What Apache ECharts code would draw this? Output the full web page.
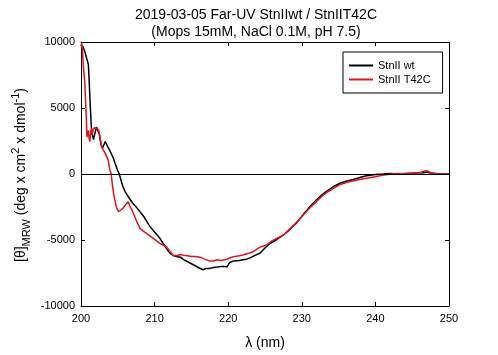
<!DOCTYPE html>
<html><head><meta charset="utf-8">
<script src="https://cdn.jsdelivr.net/npm/echarts@6/dist/echarts.min.js"></script>
<style>html,body{margin:0;padding:0;background:#fff}#c{width:498px;height:355px}</style>
</head><body><div id="c"></div>
<script>
var xTicks = [200, 210, 220, 230, 240, 250];
var yTicks = [-10000, -5000, 0, 5000, 10000];

var wtWl = [200.0,200.1,200.3,200.5,200.7,200.9,201.0,201.1,201.2,201.3,201.4,201.5,201.7,201.9,202.1,202.3,202.5,202.7,202.9,203.1,203.3,203.5,203.7,203.9,204.1,204.4,204.6,204.8,205.0,205.2,205.5,205.7,206.0,206.4,206.7,207.0,207.5,208.0,208.5,209.0,209.4,210.0,210.7,211.2,211.7,212.1,212.6,213.0,213.5,214.0,214.5,215.0,215.5,216.0,216.6,217.0,217.5,218.0,218.5,219.0,219.5,219.8,220.2,220.7,221.5,222.0,222.5,223.0,223.5,224.3,225.0,225.7,226.5,227.5,228.2,228.8,229.3,229.8,230.3,230.7,231.3,232.0,232.7,233.4,234.3,235.2,236.0,237.0,238.0,238.8,240.0,241.1,242.0,243.3,244.5,245.5,246.5,247.0,247.5,248.5,249.5,250.0];
var wtVal = [9800,9950,9600,9300,8900,8500,8300,7200,5900,4700,3600,3100,2600,3100,3550,3400,3000,2300,1950,2100,2450,2400,2000,1800,1550,1200,850,550,250,0,-600,-950,-1350,-1700,-1950,-2200,-2500,-2850,-3200,-3650,-4000,-4400,-4850,-5300,-5700,-6000,-6200,-6250,-6300,-6500,-6650,-6800,-6950,-7100,-7250,-7150,-7150,-7080,-7050,-7000,-7000,-7050,-6700,-6600,-6550,-6500,-6450,-6350,-6200,-6000,-5600,-5250,-5000,-4620,-4300,-3950,-3700,-3350,-3000,-2750,-2350,-1950,-1600,-1300,-950,-700,-550,-420,-250,-130,-30,0,30,0,50,80,100,150,80,20,0,0];

var mutWl = [200.0,200.1,200.2,200.3,200.4,200.5,200.6,200.7,200.8,200.9,201.0,201.1,201.2,201.3,201.4,201.5,201.6,201.7,201.8,201.9,202.1,202.4,202.6,202.8,203.0,203.3,203.5,203.7,203.9,204.1,204.3,204.5,204.8,205.1,205.4,205.7,206.1,206.4,206.7,207.0,207.5,208.0,208.5,208.9,209.5,210.0,210.7,211.2,211.6,212.0,212.5,213.0,213.5,213.9,214.5,215.0,215.5,216.2,216.8,217.5,218.0,218.5,219.0,219.8,220.3,220.7,221.5,222.0,222.8,223.4,224.0,224.5,225.2,226.0,227.5,228.2,228.8,229.8,230.7,231.3,232.0,232.7,233.4,234.3,235.2,236.5,237.5,238.8,240.0,241.1,242.0,243.0,244.0,245.0,246.0,246.5,247.0,247.5,248.5,249.5,250.0];
var mutVal = [9700,9900,9300,8400,7600,7100,5800,4600,2800,3100,3300,2700,2450,3100,3450,3000,3200,3050,3500,3580,3450,3330,2700,2070,1850,1560,1300,1060,350,0,-1000,-1700,-2500,-2850,-2750,-2600,-2300,-2100,-2500,-2800,-3500,-4100,-4350,-4500,-4750,-4950,-5250,-5400,-5500,-5800,-6150,-6200,-6100,-6150,-6200,-6250,-6250,-6300,-6450,-6600,-6590,-6500,-6550,-6460,-6350,-6260,-6200,-6140,-6000,-5890,-5650,-5500,-5380,-5050,-4620,-4250,-3950,-3350,-2800,-2450,-2090,-1700,-1400,-1080,-800,-580,-450,-330,-200,-80,-20,30,0,60,100,200,250,100,0,-20,0];

function pairs(xs, ys) { return xs.map(function (x, i) { return [x, ys[i]]; }); }

var FONT = 'Liberation Sans, Arial, sans-serif';
var chart = echarts.init(document.getElementById('c'));
var xBase = {
  type: 'value', min: xTicks[0], max: xTicks[xTicks.length - 1], interval: 10,
  axisLine: { show: true, onZero: false, lineStyle: { color: '#000', width: 1 } },
  axisTick: { show: true, inside: true, length: 4, lineStyle: { color: '#000' } },
  splitLine: { show: false }
};
var yBase = {
  type: 'value', min: yTicks[0], max: yTicks[yTicks.length - 1], interval: 5000,
  axisLine: { show: true, onZero: false, lineStyle: { color: '#000', width: 1 } },
  axisTick: { show: true, inside: true, length: 4, lineStyle: { color: '#000' } },
  splitLine: { show: false }
};
chart.setOption({
  animation: false,
  backgroundColor: '#fff',
  title: {
    text: '2019-03-05 Far-UV StnIIwt / StnIIT42C\n(Mops 15mM, NaCl 0.1M, pH 7.5)',
    left: 251, top: 2, textAlign: 'center',
    textStyle: { fontFamily: FONT, fontSize: 14, fontWeight: 'normal', color: '#000', lineHeight: 17 }
  },
  grid: { left: 81, right: 49, top: 42, bottom: 49 },
  legend: {
    left: 343, top: 52, orient: 'vertical',
    borderColor: '#000', borderWidth: 1, padding: [7, 12, 7, 6],
    icon: 'rect', itemWidth: 24, itemHeight: 2, itemGap: 1,
    textStyle: { fontFamily: FONT, fontSize: 11, color: '#000', lineHeight: 13 },
    data: ['StnII wt', 'StnII T42C']
  },
  xAxis: [
    Object.assign({}, xBase, {
      position: 'bottom',
      name: 'λ (nm)', nameLocation: 'middle', nameGap: 30,
      nameTextStyle: { fontFamily: FONT, fontSize: 14, color: '#000' },
      axisLabel: { fontFamily: FONT, fontSize: 11, color: '#000', margin: 7, formatter: function (v) { return String(v); } }
    }),
    Object.assign({}, xBase, { position: 'top', axisLabel: { show: false } })
  ],
  yAxis: [
    Object.assign({}, yBase, {
      position: 'left',
      axisLabel: { fontFamily: FONT, fontSize: 11, color: '#000', margin: 6, formatter: function (v) { return String(v); } }
    }),
    Object.assign({}, yBase, { position: 'right', axisLabel: { show: false } })
  ],
  graphic: [{
    type: 'text', x: 21, y: 175, rotation: Math.PI / 2,
    style: {
      text: '{a|[θ]}{s|MRW}{a| (deg x cm}{p|2}{a| x dmol}{p|-1}{a|)}',
      fill: '#000', align: 'center', verticalAlign: 'middle',
      rich: {
        a: { fontFamily: FONT, fontSize: 14, lineHeight: 22, verticalAlign: 'middle' },
        s: { fontFamily: FONT, fontSize: 11, lineHeight: 22, verticalAlign: 'bottom', padding: [6, 0, 0, 0] },
        p: { fontFamily: FONT, fontSize: 11, lineHeight: 22, verticalAlign: 'top' }
      }
    }
  }],
  series: [
    {
      name: 'StnII wt', type: 'line', data: pairs(wtWl, wtVal),
      symbol: 'none', xAxisIndex: 0, yAxisIndex: 0,
      lineStyle: { color: '#000', width: 1.5 }, itemStyle: { color: '#000' },
      markLine: {
        silent: true, symbol: ['none', 'none'], label: { show: false },
        lineStyle: { color: '#000', width: 1, type: 'solid' },
        data: [{ yAxis: 0 }]
      }
    },
    {
      name: 'StnII T42C', type: 'line', data: pairs(mutWl, mutVal),
      symbol: 'none', xAxisIndex: 0, yAxisIndex: 0,
      lineStyle: { color: '#e0141e', width: 1.5 }, itemStyle: { color: '#e0141e' }
    }
  ]
});
</script></body></html>
